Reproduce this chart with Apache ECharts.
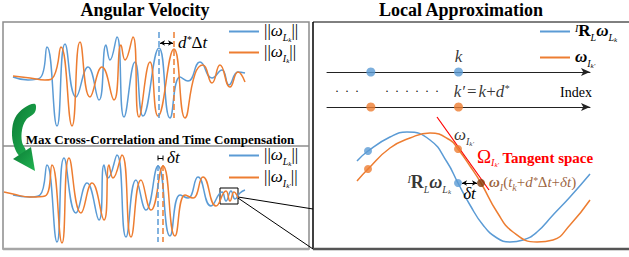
<!DOCTYPE html>
<html>
<head>
<meta charset="utf-8">
<script src="https://cdn.jsdelivr.net/npm/echarts@6/dist/echarts.min.js"></script>
<style>
html, body { margin: 0; padding: 0; background: #fff; }
#main { width: 629px; height: 257px; }
</style>
</head>
<body>
<div id="main"></div>
<script>
var SERIF = 'Liberation Serif';
var BLUE = '#5b9bd5', ORANGE = '#ed7d31', BROWN = '#843c0c', RED = '#ff0000';

// angular velocity norms, [time, amplitude], upper left panel
var blueTop = [[13,0],[28,-3],[40,-1],[47,30],[57,-49],[65,33],[76,-20],[88,10],[99,-23],[106,32],[110,17],[117,40],[124,-40],[135,15],[143,-39],[159,29],[170,-41],[180,0],[188,-4],[200,15],[212,-1],[222,7],[229,-8],[238,5],[245,4]];
var orangeTop = [[13,1],[30,-1],[45,-3],[54,1],[61,30],[72,-49],[80,35],[90,-20],[102,10],[114,-23],[121,32],[125,17],[133,40],[139,-40],[150,15],[158,-39],[174,28],[185,-41],[195,3],[203,12],[212,-6],[220,12],[230,-10],[238,5],[245,-5]];
// after max cross-correlation, lower left panel
var blueBottom = [[13,2],[30,0],[40,2],[47,32],[57,-45],[64,39],[76,-16],[87,14],[99,-23],[104,32],[108,19],[117,42],[126,-40],[136,17],[146,-13],[158,31],[170,-39],[180,2],[188,-1],[198,20],[211,-9],[222,5],[226,-4],[231,6],[235,-2],[240,4],[245,7]];
var orangeBottom = [[4,5],[13,3],[30,0],[45,1],[52,32],[62,-46],[69,39],[81,-16],[92,14],[104,-23],[109,32],[113,19],[122,42],[131,-40],[141,17],[151,-13],[163,31],[175,-39],[185,2],[193,-1],[203,20],[216,-9],[226,6],[230,-4],[234,5],[238,-1]];
// zoomed local curves, right panel
var blueLocal = [[7,29],[18,39],[40,53],[57,58],[80,50],[97,28],[108,7],[120,-15],[133,-35],[147,-48],[160,-52],[173,-50],[187,-42],[203,-25],[220,-7],[240,16]];
var orangeLocal = [[7,9],[18,21],[40,42],[60,52],[80,57],[100,50],[108,41],[120,24],[131,7],[147,-22],[163,-42],[187,-52],[203,-50],[220,-35],[240,-10]];
var tangent = [[87,73],[139,0]];
var dotsBlue = [[18,39],[108,7]];
var dotsOrange = [[18,21],[108,41]];
var dotBrown = [[131,7]];
// index axis
var indexDots = [2, 6];

function mathRich(color, base) {
  var c = color || '#000', f = base || 17;
  function st(o) {
    o.fontFamily = SERIF; o.color = c; o.verticalAlign = 'top';
    return o;
  }
  return {
    n: st({fontSize: f, lineHeight: f + 2}),
    op: st({fontSize: f, lineHeight: f + 2, padding: [0, 2, 0, 2]}),
    i: st({fontSize: f, lineHeight: f + 2, fontStyle: 'italic'}),
    b: st({fontSize: f, lineHeight: f + 2, fontWeight: 'bold'}),
    bi: st({fontSize: f, lineHeight: f + 2, fontWeight: 'bold', fontStyle: 'italic'}),
    s: st({fontSize: 10, lineHeight: 10, padding: [f - 7, 0, 0, 0], fontStyle: 'italic'}),
    ss: st({fontSize: 7, lineHeight: 7, padding: [f - 3, 0, 0, 0], fontStyle: 'italic'}),
    sp: st({fontSize: 10, lineHeight: 10, padding: [1, 0, 0, 0], fontStyle: 'italic'}),
    big: st({fontSize: f + 2, lineHeight: f + 2}),
    t: st({fontSize: 15, lineHeight: f + 2, fontWeight: 'bold', padding: [3, 0, 0, 0]})
  };
}

var legendText = {
  'top L': '{n|||}{i|ω}{s|L}{ss|k}{n|||}',
  'top I': '{n|||}{i|ω}{s|I}{ss|k}{n|||}',
  'bot L': '{n|||}{i|ω}{s|L}{ss|k}{n|||}',
  'bot I': '{n|||}{i|ω}{s|I}{ss|k′}{n|||}',
  'loc L': '{sp|I}{b|R}{s|L}{bi|ω}{s|L}{ss|k}',
  'loc I': '{bi|ω}{s|I}{ss|k′}'
};

function legendAt(names, left, top, gap) {
  return {
    data: names, orient: 'vertical', left: left, top: top, padding: 0,
    itemWidth: 30, itemHeight: 2, icon: 'rect', itemGap: gap, selectedMode: false,
    formatter: function (n) { return legendText[n]; },
    textStyle: {rich: mathRich()}
  };
}

function wave(name, data, color, idx, extra) {
  var s = {
    name: name, type: 'line', xAxisIndex: idx, yAxisIndex: idx, data: data,
    smooth: 0.5, symbol: 'none', lineStyle: {color: color, width: 1.5}, itemStyle: {color: color}
  };
  for (var k in extra) s[k] = extra[k];
  return s;
}

function dashed(color, x, y1, y2) {
  return [{coord: [x, y1], lineStyle: {type: 'dashed', color: color, width: 1.5}}, {coord: [x, y2]}];
}

function dots(data, color, labels) {
  return {
    type: 'scatter', xAxisIndex: 2, yAxisIndex: 2, symbolSize: 8, z: 5,
    itemStyle: {color: color},
    data: data.map(function (d, i) {
      return labels && labels[i] ? {value: d, label: labels[i]} : d;
    })
  };
}

function indexRow(idx, color, label) {
  return {
    type: 'scatter', xAxisIndex: idx, yAxisIndex: idx, symbolSize: 9, z: 5,
    itemStyle: {color: color},
    data: indexDots.map(function (d, i) {
      return i === 1 ? {value: [d, 0], label: label} : [d, 0];
    })
  };
}

var plainAxis = function (g, max) { return {gridIndex: g, type: 'value', min: 0, max: max, show: false}; };
var indexAxis = function (g, name) {
  return {
    gridIndex: g, type: 'value', min: 0, max: 12,
    axisLine: {show: true, onZero: false, symbol: ['none', 'arrow'], symbolSize: [6, 9], lineStyle: {color: '#222', width: 1}},
    axisTick: {show: false}, axisLabel: {show: false}, splitLine: {show: false},
    name: name, nameLocation: 'end', nameGap: -30,
    nameTextStyle: {fontFamily: SERIF, fontSize: 14, color: '#000', align: 'left', verticalAlign: 'bottom', padding: [0, 0, 8, 0]}
  };
};

var titleStyle = {fontFamily: SERIF, fontWeight: 'bold', fontSize: 18, color: '#000'};
var green = new echarts.graphic.LinearGradient(0, 0, 1, 1, [{offset: 0, color: '#0b7a35'}, {offset: 1, color: '#22b552'}]);

var myChart = echarts.init(document.getElementById('main'), null, {renderer: 'svg'});
var option = {
  animation: false,
  title: [
    {text: 'Angular Velocity', left: 145, top: 1, padding: 0, textAlign: 'center', textStyle: titleStyle},
    {text: 'Local Approximation', left: 461, top: 1, padding: 0, textAlign: 'center', textStyle: titleStyle}
  ],
  legend: [
    legendAt(['top L', 'top I'], 229, 22, 0),
    legendAt(['bot L', 'bot I'], 229, 146, 1),
    legendAt(['loc L', 'loc I'], 540, 22, 5)
  ],
  grid: [
    {left: 0, top: 29, width: 250, height: 100},
    {left: 0, top: 149, width: 250, height: 100},
    {left: 350, top: 115, width: 250, height: 135},
    {left: 327, top: 71, width: 263, height: 1},
    {left: 327, top: 106, width: 263, height: 1}
  ],
  xAxis: [plainAxis(0, 250), plainAxis(1, 250), plainAxis(2, 250), indexAxis(3, ''), indexAxis(4, 'Index')],
  yAxis: [
    {gridIndex: 0, type: 'value', min: -52, max: 48, show: false},
    {gridIndex: 1, type: 'value', min: -52, max: 48, show: false},
    {gridIndex: 2, type: 'value', min: -60, max: 75, show: false},
    {gridIndex: 3, type: 'value', min: 0, max: 1, show: false},
    {gridIndex: 4, type: 'value', min: 0, max: 1, show: false}
  ],
  series: [
    wave('top L', blueTop, BLUE, 0, {
      markLine: {silent: true, symbol: ['none', 'none'], label: {show: false}, data: [dashed(BLUE, 159, 45, -41)]}
    }),
    wave('top I', orangeTop, ORANGE, 0, {
      markLine: {silent: true, symbol: ['none', 'none'], label: {show: false}, data: [
        dashed(ORANGE, 174, 45, -41),
        [{coord: [160, 34], symbol: 'arrow', symbolSize: [4, 5], lineStyle: {type: 'solid', color: '#000', width: 1},
          label: {show: true, position: 'end', distance: 5, formatter: '{i|d}{sp|*}{n|Δ}{i|t}', rich: mathRich()}},
         {coord: [173, 34], symbol: 'arrow', symbolSize: [4, 5]}]
      ]}
    }),
    wave('bot L', blueBottom, BLUE, 1, {
      markLine: {silent: true, symbol: ['none', 'none'], label: {show: false}, data: [dashed(BLUE, 158, 32, -45)]},
      markArea: {silent: true, itemStyle: {color: 'rgba(0,0,0,0)', borderColor: '#000', borderWidth: 1},
        data: [[{coord: [220, 9]}, {coord: [238, -7]}]]}
    }),
    wave('bot I', orangeBottom, ORANGE, 1, {
      markLine: {silent: true, symbol: ['none', 'none'], label: {show: false}, data: [
        dashed(ORANGE, 163, 32, -45),
        [{coord: [158, 39], symbol: 'rect', symbolSize: [5, 1], lineStyle: {type: 'solid', color: '#000', width: 1},
          label: {show: true, position: 'end', distance: 4, formatter: '{i|δt}', rich: mathRich()}},
         {coord: [163, 39], symbol: 'rect', symbolSize: [5, 1]}]
      ]}
    }),
    wave('loc L', blueLocal, BLUE, 2, {}),
    wave('loc I', orangeLocal, ORANGE, 2, {
      markLine: {silent: true, symbol: ['arrow', 'arrow'], symbolSize: [4, 5], z: 6,
        lineStyle: {type: 'solid', color: '#000', width: 1},
        label: {show: true, position: 'insideMiddleBottom', distance: 2, formatter: '{i|δt}', rich: mathRich()},
        data: [[{coord: [112, 7]}, {coord: [127, 7]}]]}
    }),
    wave('tangent', tangent, RED, 2, {smooth: false, lineStyle: {color: RED, width: 1.2}}),
    dots(dotsBlue, BLUE, [null, {show: true, position: 'left', distance: 3,
      formatter: '{sp|I}{b|R}{s|L}{bi|ω}{s|L}{ss|k}', rich: mathRich('#000', 18)}]),
    dots(dotsOrange, ORANGE, [null, {show: true, position: 'top', distance: 0, offset: [6, 0],
      formatter: '{i|ω}{s|I}{ss|k′}', rich: mathRich()}]),
    dots(dotBrown, BROWN, [{show: true, position: 'right', distance: 4,
      formatter: '{bi|ω}{s|I}{n|(}{i|t}{s|k}{n|+}{i|d}{sp|*}{n|Δ}{i|t}{n|+}{i|δt}{n|)}', rich: mathRich(BROWN, 15)}]),
    indexRow(3, BLUE, {show: true, position: 'top', distance: 1, formatter: '{i|k}', rich: mathRich()}),
    indexRow(4, ORANGE, {show: true, position: 'top', distance: 1, offset: [23, 0],
      formatter: '{i|k′}{op|=}{i|k}{n|+}{i|d}{sp|*}', rich: mathRich()})
  ],
  graphic: [
    {type: 'rect', shape: {x: 3, y: 22, width: 306, height: 227}, style: {fill: 'none', stroke: '#8c8c8c', lineWidth: 1.5}},
    {type: 'line', shape: {x1: 3, y1: 249, x2: 309, y2: 249}, style: {stroke: '#a6a6a6', lineWidth: 2.5}},
    {type: 'line', shape: {x1: 3, y1: 146, x2: 309, y2: 146}, style: {stroke: '#8c8c8c', lineWidth: 1.5}},
    {type: 'line', shape: {x1: 313, y1: 22, x2: 629, y2: 22}, style: {stroke: '#000', lineWidth: 1}},
    {type: 'line', shape: {x1: 313, y1: 22, x2: 313, y2: 249}, style: {stroke: '#000', lineWidth: 1.5}},
    {type: 'line', shape: {x1: 313, y1: 249, x2: 629, y2: 249}, style: {stroke: '#555', lineWidth: 2.5}},
    {type: 'line', shape: {x1: 238, y1: 197, x2: 313, y2: 209}, style: {stroke: '#000', lineWidth: 1}},
    {type: 'line', shape: {x1: 238, y1: 198, x2: 313, y2: 249}, style: {stroke: '#000', lineWidth: 1}},
    {type: 'text', x: 160, y: 139, style: {text: 'Max Cross-Correlation and Time Compensation', fontFamily: SERIF,
      fontWeight: 'bold', fontSize: 13, fill: '#000', align: 'center', verticalAlign: 'middle'}},
    {type: 'text', x: 335, y: 91, style: {text: '·  ·  ·', fontFamily: SERIF, fontSize: 12, fill: '#000', verticalAlign: 'middle'}},
    {type: 'text', x: 385, y: 91, style: {text: '·  ·  ·  ·  ·  ·', fontFamily: SERIF, fontSize: 12, fill: '#000', verticalAlign: 'middle'}},
    {type: 'text', x: 477, y: 147, style: {text: '{big|Ω}{s|I}{ss|k′} {t|Tangent space}', rich: mathRich(RED), fill: RED}},
    {type: 'polygon', shape: {smooth: 0.35, points: [[35,104],[24,108],[15,118],[12,132],[14,146],[20,156],[26,152],[22,142],[22,130],[26,120],[35,112]]},
      style: {fill: green}},
    {type: 'polygon', shape: {points: [[13,159],[35,171],[31,147]]}, style: {fill: green}}
  ]
};
myChart.setOption(option);
</script>
</body>
</html>
